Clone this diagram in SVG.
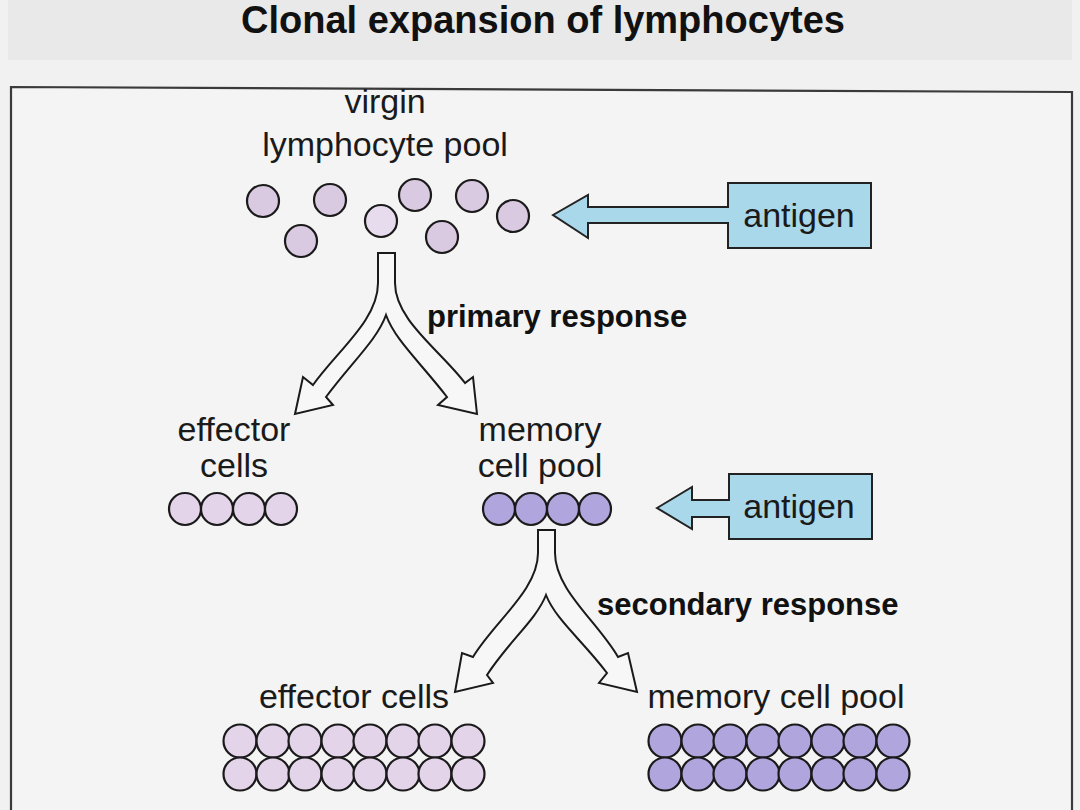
<svg xmlns="http://www.w3.org/2000/svg" width="1080" height="810" viewBox="0 0 1080 810">
<style>
.t{font-family:"Liberation Sans",Arial,sans-serif;font-size:34px;fill:#1a1a1a;text-anchor:middle}
.b{font-family:"Liberation Sans",Arial,sans-serif;font-size:31px;font-weight:bold;fill:#111}
.cv{fill:#d9c9e1;stroke:#1a1a1a;stroke-width:2.2}
.ce{fill:#e3d4e9;stroke:#1a1a1a;stroke-width:2.2}
.cm{fill:#b1a5dd;stroke:#1a1a1a;stroke-width:2.2}
.ag{fill:#a9d8ea;stroke:#222;stroke-width:2}
.fk{fill:#f7f7f7;stroke:#1a1a1a;stroke-width:2}
</style>
<rect width="1080" height="810" fill="#f1f1f1"/>
<rect x="8" y="0" width="1064" height="60" fill="#e9e9e9"/>
<text x="543" y="33" style="font-family:'Liberation Sans',Arial,sans-serif;font-size:38px;font-weight:bold;fill:#111;text-anchor:middle">Clonal expansion of lymphocytes</text>
<g id="frame">
<path d="M11,810 L11,87 L1072,92 L1072,810" fill="#f4f4f4" stroke="#3a3a3a" stroke-width="2.2"/>
</g>
<g id="virgin-pool">
<text class="t" x="385" y="113">virgin</text>
<text class="t" x="385" y="156">lymphocyte pool</text>
<circle class="cv" cx="263" cy="201" r="16"/>
<circle class="cv" cx="330" cy="200" r="16"/>
<circle class="cv" cx="301" cy="241" r="16"/>
<circle cx="381" cy="221" r="16" fill="#e7dced" stroke="#1a1a1a" stroke-width="2.2"/>
<circle class="cv" cx="415" cy="195" r="16"/>
<circle class="cv" cx="472" cy="196" r="16"/>
<circle class="cv" cx="442" cy="237" r="16"/>
<circle class="cv" cx="513" cy="216" r="16"/>
</g>
<g id="antigen1">
<path class="ag" d="M553,215 L588,195 L588,207 L728,207 L728,183 L871,183 L871,248 L728,248 L728,223 L588,223 L588,238 Z"/>
<text class="t" x="799" y="227">antigen</text>
</g>
<g id="effector1">
<text class="t" x="234" y="441">effector</text>
<text class="t" x="234" y="477">cells</text>
<circle class="ce" cx="185" cy="509" r="16"/>
<circle class="ce" cx="217" cy="509" r="16"/>
<circle class="ce" cx="249" cy="509" r="16"/>
<circle class="ce" cx="281" cy="509" r="16"/>
</g>
<g id="memory1">
<text class="t" x="540" y="441">memory</text>
<text class="t" x="540" y="477">cell pool</text>
<circle class="cm" cx="499" cy="509" r="16"/>
<circle class="cm" cx="531" cy="509" r="16"/>
<circle class="cm" cx="563" cy="509" r="16"/>
<circle class="cm" cx="595" cy="509" r="16"/>
</g>
<g id="antigen2">
<path class="ag" d="M657,508 L692,487 L692,500 L729,500 L729,474 L872,474 L872,539 L729,539 L729,517 L692,517 L692,529 Z"/>
<text class="t" x="799" y="518">antigen</text>
</g>
<g id="effector2">
<text class="t" x="354" y="708">effector cells</text>
<g class="ce">
<circle cx="240" cy="741" r="16.5"/><circle cx="273" cy="741" r="16.5"/><circle cx="305" cy="741" r="16.5"/><circle cx="338" cy="741" r="16.5"/><circle cx="370" cy="741" r="16.5"/><circle cx="403" cy="741" r="16.5"/><circle cx="435" cy="741" r="16.5"/><circle cx="468" cy="741" r="16.5"/>
<circle cx="240" cy="774" r="16.5"/><circle cx="273" cy="774" r="16.5"/><circle cx="305" cy="774" r="16.5"/><circle cx="338" cy="774" r="16.5"/><circle cx="370" cy="774" r="16.5"/><circle cx="403" cy="774" r="16.5"/><circle cx="435" cy="774" r="16.5"/><circle cx="468" cy="774" r="16.5"/>
</g>
</g>
<g id="memory2">
<text class="t" x="776" y="708">memory cell pool</text>
<g class="cm">
<circle cx="665" cy="741" r="16.5"/><circle cx="698" cy="741" r="16.5"/><circle cx="730" cy="741" r="16.5"/><circle cx="763" cy="741" r="16.5"/><circle cx="795" cy="741" r="16.5"/><circle cx="828" cy="741" r="16.5"/><circle cx="860" cy="741" r="16.5"/><circle cx="893" cy="741" r="16.5"/>
<circle cx="665" cy="774" r="16.5"/><circle cx="698" cy="774" r="16.5"/><circle cx="730" cy="774" r="16.5"/><circle cx="763" cy="774" r="16.5"/><circle cx="795" cy="774" r="16.5"/><circle cx="828" cy="774" r="16.5"/><circle cx="860" cy="774" r="16.5"/><circle cx="893" cy="774" r="16.5"/>
</g>
</g>
<g id="connectors">
<path class="fk" d="M378,253 L395,253 L395,283 C395,320 440,350 465,383 L473,377 L477,414 L438,405 L447,397 C420,362 395,340 386,315 C377,340 352,362 326,397 L333,405 L295,414 L303,377 L313,385 C338,350 378,320 378,283 Z"/>
<text class="b" x="427" y="327">primary response</text>
<path class="fk" d="M538,530 L555,530 L555,553 C555,590 598,622 618,657 L628,653 L637,692 L599,683 L607,673 C582,640 556,620 546,595 C536,620 510,640 487,675 L493,683 L455,692 L462,653 L473,657 C494,622 538,590 538,553 Z"/>
<text class="b" x="597" y="615">secondary response</text>
</g>
</svg>
